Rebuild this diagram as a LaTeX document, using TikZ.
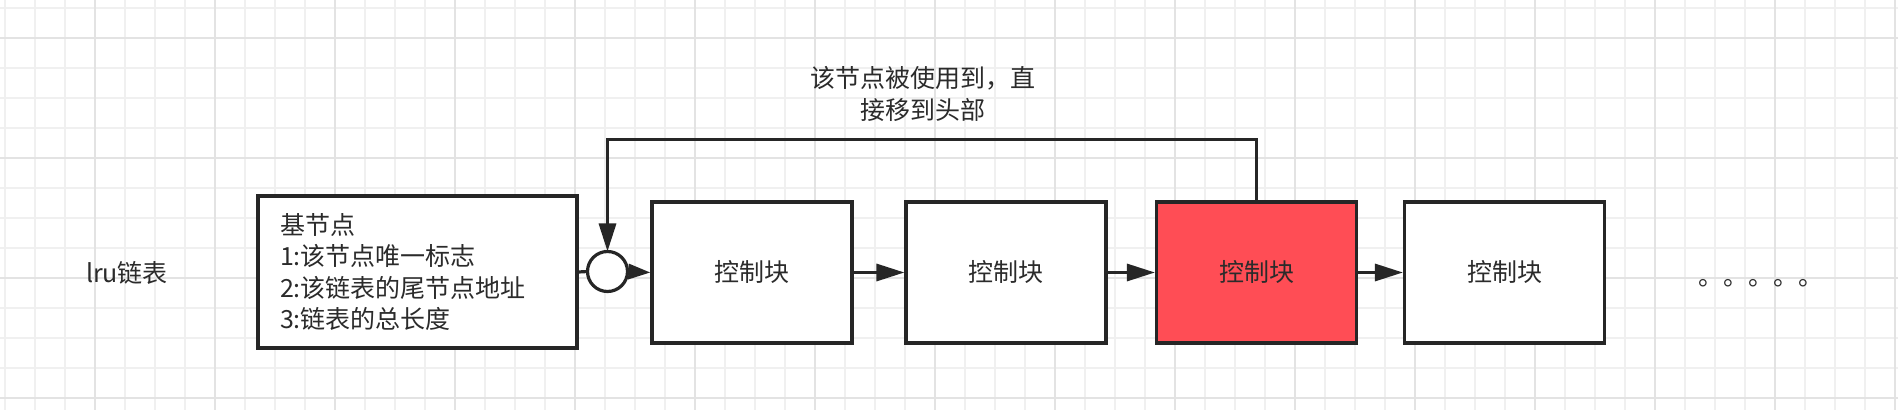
\documentclass[tikz,border=0pt]{standalone}
\usepackage{fontspec}
\setmainfont{Noto Sans CJK SC}
\usetikzlibrary{arrows.meta}
\definecolor{linec}{HTML}{262626}
\definecolor{textc}{HTML}{2B2B2B}
\definecolor{gridminor}{HTML}{F0F0F0}
\definecolor{gridmajor}{HTML}{E3E3E3}
\definecolor{hot}{HTML}{FF4D55}
\newcommand{\fs}{\fontsize{12.5pt}{15.75pt}\selectfont}
\tikzset{
  blk/.style={draw=linec, line width=1.6pt, fill=white, minimum width=100pt, minimum height=70.5pt, inner sep=0pt, font=\fs, text=textc},
  conn/.style={draw=linec, line width=1.6pt},
  arr/.style={conn, -{Triangle[length=14pt,width=8.5pt]}},
  shortarr/.style={conn, -{Triangle[length=11pt,width=7.5pt]}},
  lbl/.style={font=\fs, text=textc, inner sep=0pt, align=center},
}
\begin{document}
\begin{tikzpicture}[x=0.5pt, y=-0.5pt]
\useasboundingbox (0,0) rectangle (1898,410);
\fill[white] (0,0) rectangle (1898,410);
% grid
\foreach \x in {5,35,...,1895} \draw[gridminor, line width=1pt] (\x,0) -- (\x,410);
\foreach \y in {8,38,...,398} \draw[gridminor, line width=1pt] (0,\y) -- (1898,\y);
\foreach \x in {95,215,...,1895} \draw[gridmajor, line width=1pt] (\x,0) -- (\x,410);
\foreach \y in {38,158,278,398} \draw[gridmajor, line width=1pt] (0,\y) -- (1898,\y);
% nodes
\node[lbl] (title) at (127,273) {lru链表};
\node[blk, minimum width=159.5pt, minimum height=76pt, text width=137.5pt, inner xsep=11pt, align=left] (base) at (417.5,272) {基节点\\1:该节点唯一标志\\2:该链表的尾节点地址\\3:链表的总长度};
\node[draw=linec, line width=1.6pt, fill=white, circle, minimum size=20pt, inner sep=0pt, outer sep=0pt] (head) at (607.5,271.5) {};
\node[blk] (b1) at (752,272.5) {控制块};
\node[blk] (b2) at (1006,272.5) {控制块};
\node[blk, fill=hot] (b3) at (1256.5,272.5) {控制块};
\node[blk] (b4) at (1504.5,272.5) {控制块};
\node[lbl, anchor=base west] (dots) at (1698,286) {。。。。。};
\node[lbl] (note) at (923,94) {该节点被使用到，直\\接移到头部};
% connectors
\draw[conn] (base.east) -- (head.west);
\draw[shortarr] (head.east) -- (b1.west);
\draw[arr] (b1.east) -- (b2.west);
\draw[arr] (b2.east) -- (b3.west);
\draw[arr] (b3.east) -- (b4.west);
\draw[arr] (b3.north) -- ++(0,-61) -| (head.north);
\end{tikzpicture}
\end{document}
